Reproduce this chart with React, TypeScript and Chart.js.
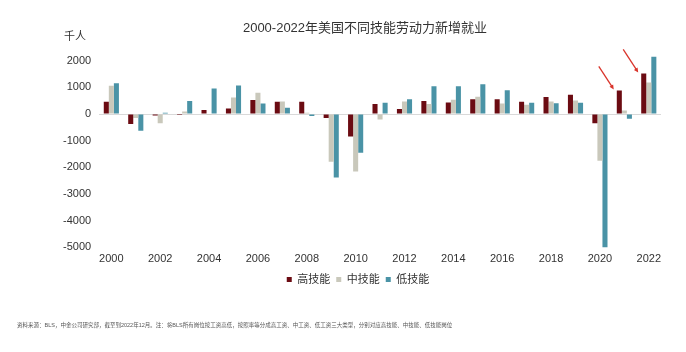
import React, { useEffect, useRef } from "react";
import { Chart, registerables } from "chart.js";

Chart.register(...registerables);

const years = ["2000","2001","2002","2003","2004","2005","2006","2007","2008","2009","2010","2011","2012","2013","2014","2015","2016","2017","2018","2019","2020","2021","2022"];
const highSkill = [460, -375, -50, -30, 150, 210, 525, 460, 460, -150, -840, 375, 190, 490, 440, 560, 560, 460, 640, 725, -340, 890, 1525];
const midSkill = [1060, -150, -340, 100, -30, 625, 800, 475, 50, -1790, -2150, -200, 475, 375, 540, 650, 400, 350, 475, 510, -1750, 140, 1190];
const lowSkill = [1160, -625, 50, 490, 960, 1075, 400, 240, -75, -2375, -1450, 425, 560, 1050, 1050, 1125, 900, 425, 410, 425, -5000, -175, 2150];
const yTicks = [-5000, -4000, -3000, -2000, -1000, 0, 1000, 2000];
const seriesNames = ["高技能", "中技能", "低技能"];
const arrowYears = ["2021", "2022"];

const titleText = "2000-2022年美国不同技能劳动力新增就业";
const unitText = "千人";
const footText = "资料来源：BLS，中金公司研究部，截至到2022年12月。注：将BLS所有岗位按工资高低，按照率等分成高工资、中工资、低工资三大类型，分别对应高技能、中技能、低技能岗位";

const FONT = '"Liberation Sans", Arial, "Noto Sans CJK SC", sans-serif';

const textPlugin = {
  id: "extraText",
  afterDraw(chart: any) {
    const ctx = chart.ctx;
    ctx.save();
    ctx.fillStyle = "#333333";
    ctx.textBaseline = "middle";
    ctx.textAlign = "center";
    ctx.font = `13px ${FONT}`;
    ctx.fillText(titleText, 365, 28);
    ctx.font = `11px ${FONT}`;
    ctx.textAlign = "left";
    ctx.fillText(unitText, 64, 37);
    // footnote
    ctx.fillStyle = "#555555";
    ctx.font = `6px ${FONT}`;
    const w = ctx.measureText(footText).width;
    const size = 6 * 435 / w;
    ctx.font = `${size.toFixed(2)}px ${FONT}`;
    ctx.fillText(footText, 17, 325);
    // arrows
    const meta = chart.getDatasetMeta(0);
    ctx.strokeStyle = "#d9342b";
    ctx.fillStyle = "#d9342b";
    ctx.lineWidth = 1.3;
    arrowYears.forEach((yr) => {
      const idx = years.indexOf(yr);
      const el: any = meta.data[idx];
      if (!el) return;
      const ex = el.x - el.width / 2 - 3;
      const ey = el.y - 1;
      const sx = ex - 15;
      const sy = ey - 23;
      const ang = Math.atan2(ey - sy, ex - sx);
      const hl = 5;
      ctx.beginPath();
      ctx.moveTo(sx, sy);
      ctx.lineTo(ex - Math.cos(ang) * 3, ey - Math.sin(ang) * 3);
      ctx.stroke();
      ctx.beginPath();
      ctx.moveTo(ex, ey);
      ctx.lineTo(ex - hl * Math.cos(ang - 0.45), ey - hl * Math.sin(ang - 0.45));
      ctx.lineTo(ex - hl * Math.cos(ang + 0.45), ey - hl * Math.sin(ang + 0.45));
      ctx.closePath();
      ctx.fill();
    });
    ctx.restore();
  },
};

export default function App() {
  const ref = useRef<HTMLCanvasElement | null>(null);
  useEffect(() => {
    if (!ref.current) return;
    const chart = new Chart(ref.current, {
      type: "bar",
      data: {
        labels: years,
        datasets: [
          { label: seriesNames[0], data: highSkill, backgroundColor: "#6b0b12", borderWidth: 0 },
          { label: seriesNames[1], data: midSkill, backgroundColor: "#c9c8bb", borderWidth: 0 },
          { label: seriesNames[2], data: lowSkill, backgroundColor: "#4a93a6", borderWidth: 0 },
        ],
      },
      options: {
        responsive: false,
        animation: false,
        devicePixelRatio: 1,
        layout: { padding: { left: 55, right: 25, top: 47.5, bottom: 57 } },
        datasets: { bar: { categoryPercentage: 0.62, barPercentage: 1.0 } },
        plugins: {
          title: { display: false },
          tooltip: { enabled: false },
          legend: {
            display: true,
            position: "bottom",
            labels: {
              boxWidth: 5,
              boxHeight: 5,
              padding: 6,
              color: "#333333",
              font: { size: 11, family: FONT },
            },
          },
        },
        scales: {
          x: {
            grid: { display: false, drawTicks: false },
            border: { display: false },
            ticks: {
              autoSkip: false,
              maxRotation: 0,
              padding: 2,
              color: "#333333",
              font: { size: 11, family: FONT },
              callback: (_v: any, i: number) => (i % 2 === 0 ? years[i] : ""),
            },
          },
          y: {
            min: -5130,
            max: 2500,
            afterBuildTicks: (axis: any) => {
              axis.ticks = yTicks.map((v) => ({ value: v }));
            },
            grid: {
              drawTicks: false,
              color: (c: any) => (c.tick && c.tick.value === 0 ? "#d9d9d9" : "rgba(0,0,0,0)"),
              lineWidth: 1,
            },
            border: { display: false },
            ticks: {
              padding: 8,
              color: "#333333",
              font: { size: 11, family: FONT },
              callback: (v: any) => String(v),
            },
          },
        },
      },
      plugins: [textPlugin],
    });
    return () => chart.destroy();
  }, []);
  return (
    <div style={{ position: "fixed", left: 0, top: 0, width: 686, height: 352, background: "#ffffff" }}>
      <canvas ref={ref} width={686} height={352} />
    </div>
  );
}
